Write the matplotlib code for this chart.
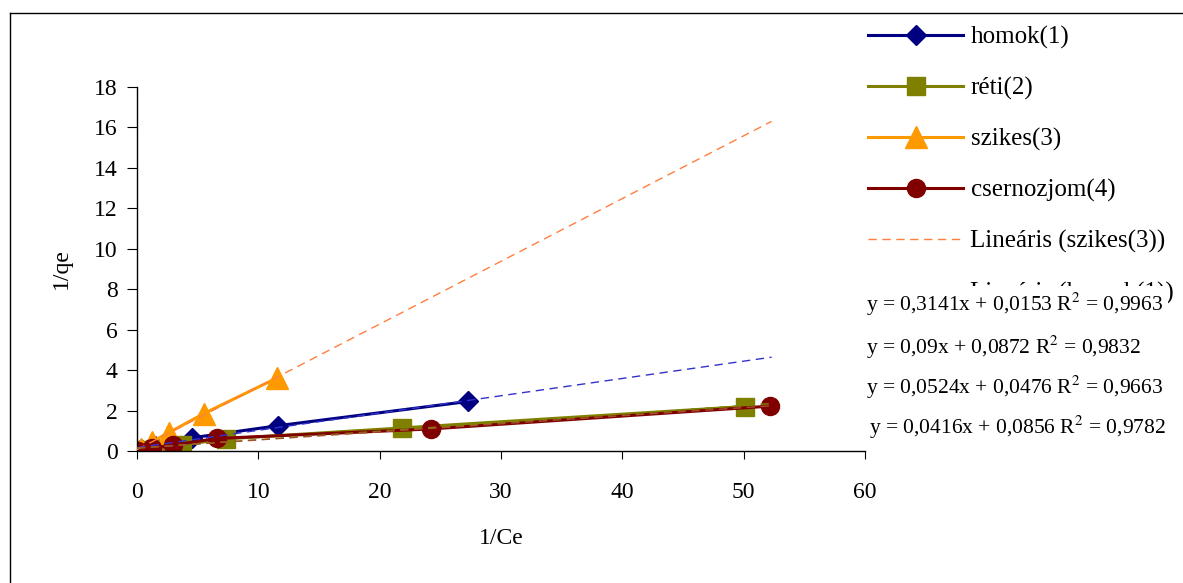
import numpy as np
import matplotlib
matplotlib.use('Agg')
import matplotlib.pyplot as plt
from matplotlib.lines import Line2D

plt.rcParams['font.family'] = ['Liberation Serif', 'DejaVu Serif']
plt.rcParams['mathtext.fontset'] = 'stix'

# 1/Ce and 1/qe values
homok_x = [0.3, 1.5, 4.5, 11.6, 27.3]
homok_y = [0.1, 0.25, 0.65, 1.25, 2.45]
reti_x = [0.3, 1.5, 3.7, 7.3, 21.8, 50.1]
reti_y = [0.05, 0.12, 0.3, 0.6, 1.14, 2.2]
szikes_x = [0.3, 1.2, 2.6, 5.5, 11.5]
szikes_y = [0.1, 0.45, 0.9, 1.85, 3.6]
cserno_x = [0.1, 1.2, 3.0, 6.6, 24.2, 52.2]
cserno_y = [0.02, 0.13, 0.3, 0.62, 1.09, 2.22]

equations = ['y = 0,3141x + 0,0153 R$^2$ = 0,9963',
             'y = 0,09x + 0,0872 R$^2$ = 0,9832',
             'y = 0,0524x + 0,0476 R$^2$ = 0,9663',
             'y = 0,0416x + 0,0856 R$^2$ = 0,9782']

W, H = 1183, 583
fig = plt.figure(figsize=(W / 100, H / 100), dpi=100)
ax = fig.add_axes([137 / W, 1 - 451 / H, (865 - 137) / W, (451 - 87) / H])

ax.plot(homok_x, homok_y, color='#000080', lw=2.2, marker='D', ms=10, label='homok(1)')
ax.plot(reti_x, reti_y, color='#808000', lw=2.2, marker='s', ms=13, label='réti(2)')
ax.plot(szikes_x, szikes_y, color='#FF9900', lw=2.2, marker='^', ms=16, label='szikes(3)')
ax.plot(cserno_x, cserno_y, color='#800000', lw=2.2, marker='o', ms=13, label='csernozjom(4)')

# linear trend lines (only the first two appear in the visible legend)
xt = np.array([0, 52.3])
trends = [(szikes_x, szikes_y, '#FF7F3F', 'Lineáris (szikes(3))'),
          (homok_x, homok_y, '#3333CC', 'Lineáris (homok(1))'),
          (reti_x, reti_y, '#808000', '_nolegend_'),
          (cserno_x, cserno_y, '#A0522D', '_nolegend_')]
for xs, ys, c, lab in trends:
    k, b = np.polyfit(xs, ys, 1)
    ax.plot(xt, k * xt + b, color=c, lw=1, ls=(0, (6, 4)), label=lab, zorder=3)

ax.set_xlim(0, 60)
ax.set_ylim(0, 18)
ax.set_xticks(range(0, 61, 10))
ax.set_yticks(range(0, 19, 2))
ax.spines['top'].set_visible(False)
ax.spines['right'].set_visible(False)
ax.tick_params(axis='x', direction='out', length=6, pad=16, labelsize=17)
ax.tick_params(axis='y', direction='out', length=7, pad=7, labelsize=17)
ax.set_xlabel('1/Ce', fontsize=17, labelpad=18)
ax.set_ylabel('1/qe', fontsize=17, labelpad=16)
for s in ['left', 'bottom']:
    ax.spines[s].set_linewidth(1.0)

ax.legend(loc='upper left', bbox_to_anchor=(868 / W, 1 - 26 / H), bbox_transform=fig.transFigure,
          frameon=False, fontsize=18, handlelength=3.8, handletextpad=0.3,
          labelspacing=1.12, borderpad=0, borderaxespad=0)

eq_pos = [(1015, 304, 'center'), (866, 347, 'left'), (866, 387, 'left'), (869, 427, 'left')]
for txt, (px, py, ha) in zip(equations, eq_pos):
    fig.text(px / W, 1 - py / H, txt, fontsize=15.5, ha=ha, va='center', zorder=5,
             bbox=dict(facecolor='white', edgecolor='none', pad=3))

# outer chart border
fig.add_artist(Line2D([9.5 / W, 9.5 / W], [0, 1 - 13 / H], color='black', lw=1))
fig.add_artist(Line2D([9.5 / W, 1], [1 - 13 / H, 1 - 13 / H], color='black', lw=1))

fig.savefig('out.png', dpi=100)
